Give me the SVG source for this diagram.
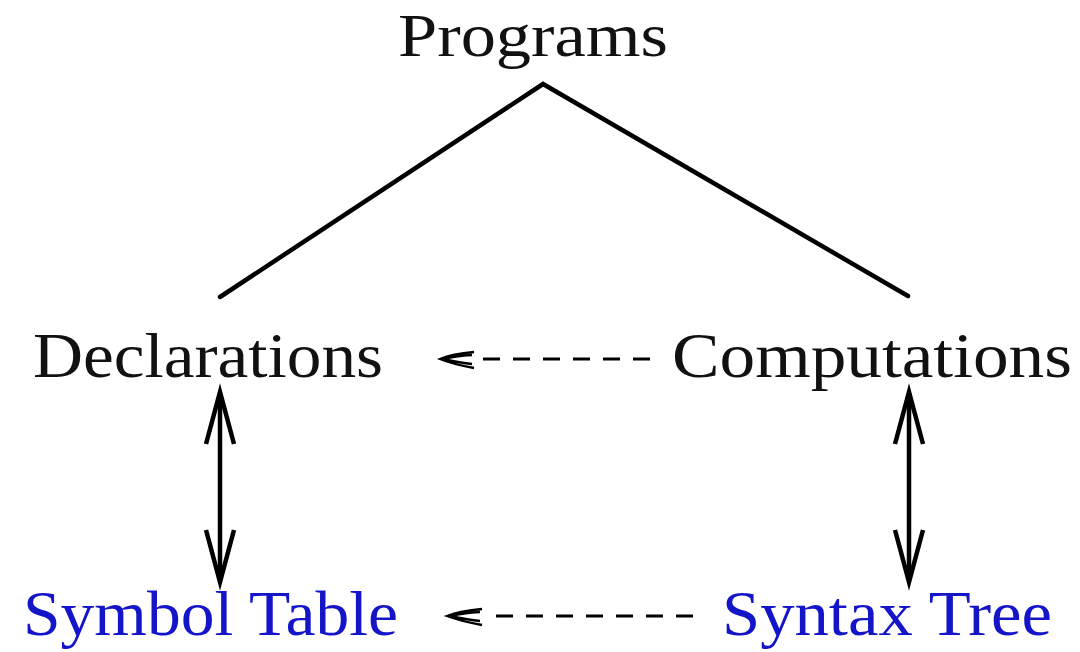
<svg xmlns="http://www.w3.org/2000/svg" width="1080" height="652" viewBox="0 0 1080 652">
<style>
.t{font-family:"Liberation Serif","DejaVu Serif",serif;font-size:63px;fill:#111}
.p{font-size:61px}
.b{fill:#1414c8}
.ln{stroke:#000;stroke-width:4.5;fill:none;stroke-linecap:round}
.arr{stroke:#000;stroke-width:4.5;fill:none;stroke-linejoin:miter}
.dash{stroke:#000;stroke-width:3;fill:none;stroke-dasharray:17 13}
.head{stroke:#000;stroke-width:2.4;fill:none}
</style>
<rect width="1080" height="652" fill="#fff"/>
<g id="programs"><text class="t p" x="398" y="56" textLength="270" lengthAdjust="spacingAndGlyphs">Programs</text></g>
<g id="declarations"><text class="t" x="33" y="377" textLength="350" lengthAdjust="spacingAndGlyphs">Declarations</text></g>
<g id="computations"><text class="t" x="672" y="377" textLength="400" lengthAdjust="spacingAndGlyphs">Computations</text></g>
<g id="symbol-table"><text class="t b" x="23" y="635" textLength="375" lengthAdjust="spacingAndGlyphs">Symbol Table</text></g>
<g id="syntax-tree"><text class="t b" x="722" y="635" textLength="330" lengthAdjust="spacingAndGlyphs">Syntax Tree</text></g>
<g id="connectors">
<polyline class="ln" points="220,297 543,84 908,296"/>
<line class="ln" x1="220" y1="394" x2="220" y2="580"/>
<polyline class="arr" points="206,444 220,392 234,444"/>
<polyline class="arr" points="206,530 220,582 234,530"/>
<line class="ln" x1="909" y1="394" x2="909" y2="580"/>
<polyline class="arr" points="895,444 909,392 923,444"/>
<polyline class="arr" points="895,530 909,582 923,530"/>
<line class="dash" x1="650" y1="359" x2="478" y2="359"/>
<path class="head" d="M474,352 Q452,354 440,359 Q452,364 474,368 M472,355 Q455,356 444,359 M472,364 Q455,362 444,359"/>
<line class="dash" x1="693" y1="616" x2="493" y2="616"/>
<path class="head" d="M482,609 Q460,611 447,616 Q460,621 482,625 M480,612 Q463,613 451,616 M480,621 Q463,619 451,616"/>
</g>
</svg>
